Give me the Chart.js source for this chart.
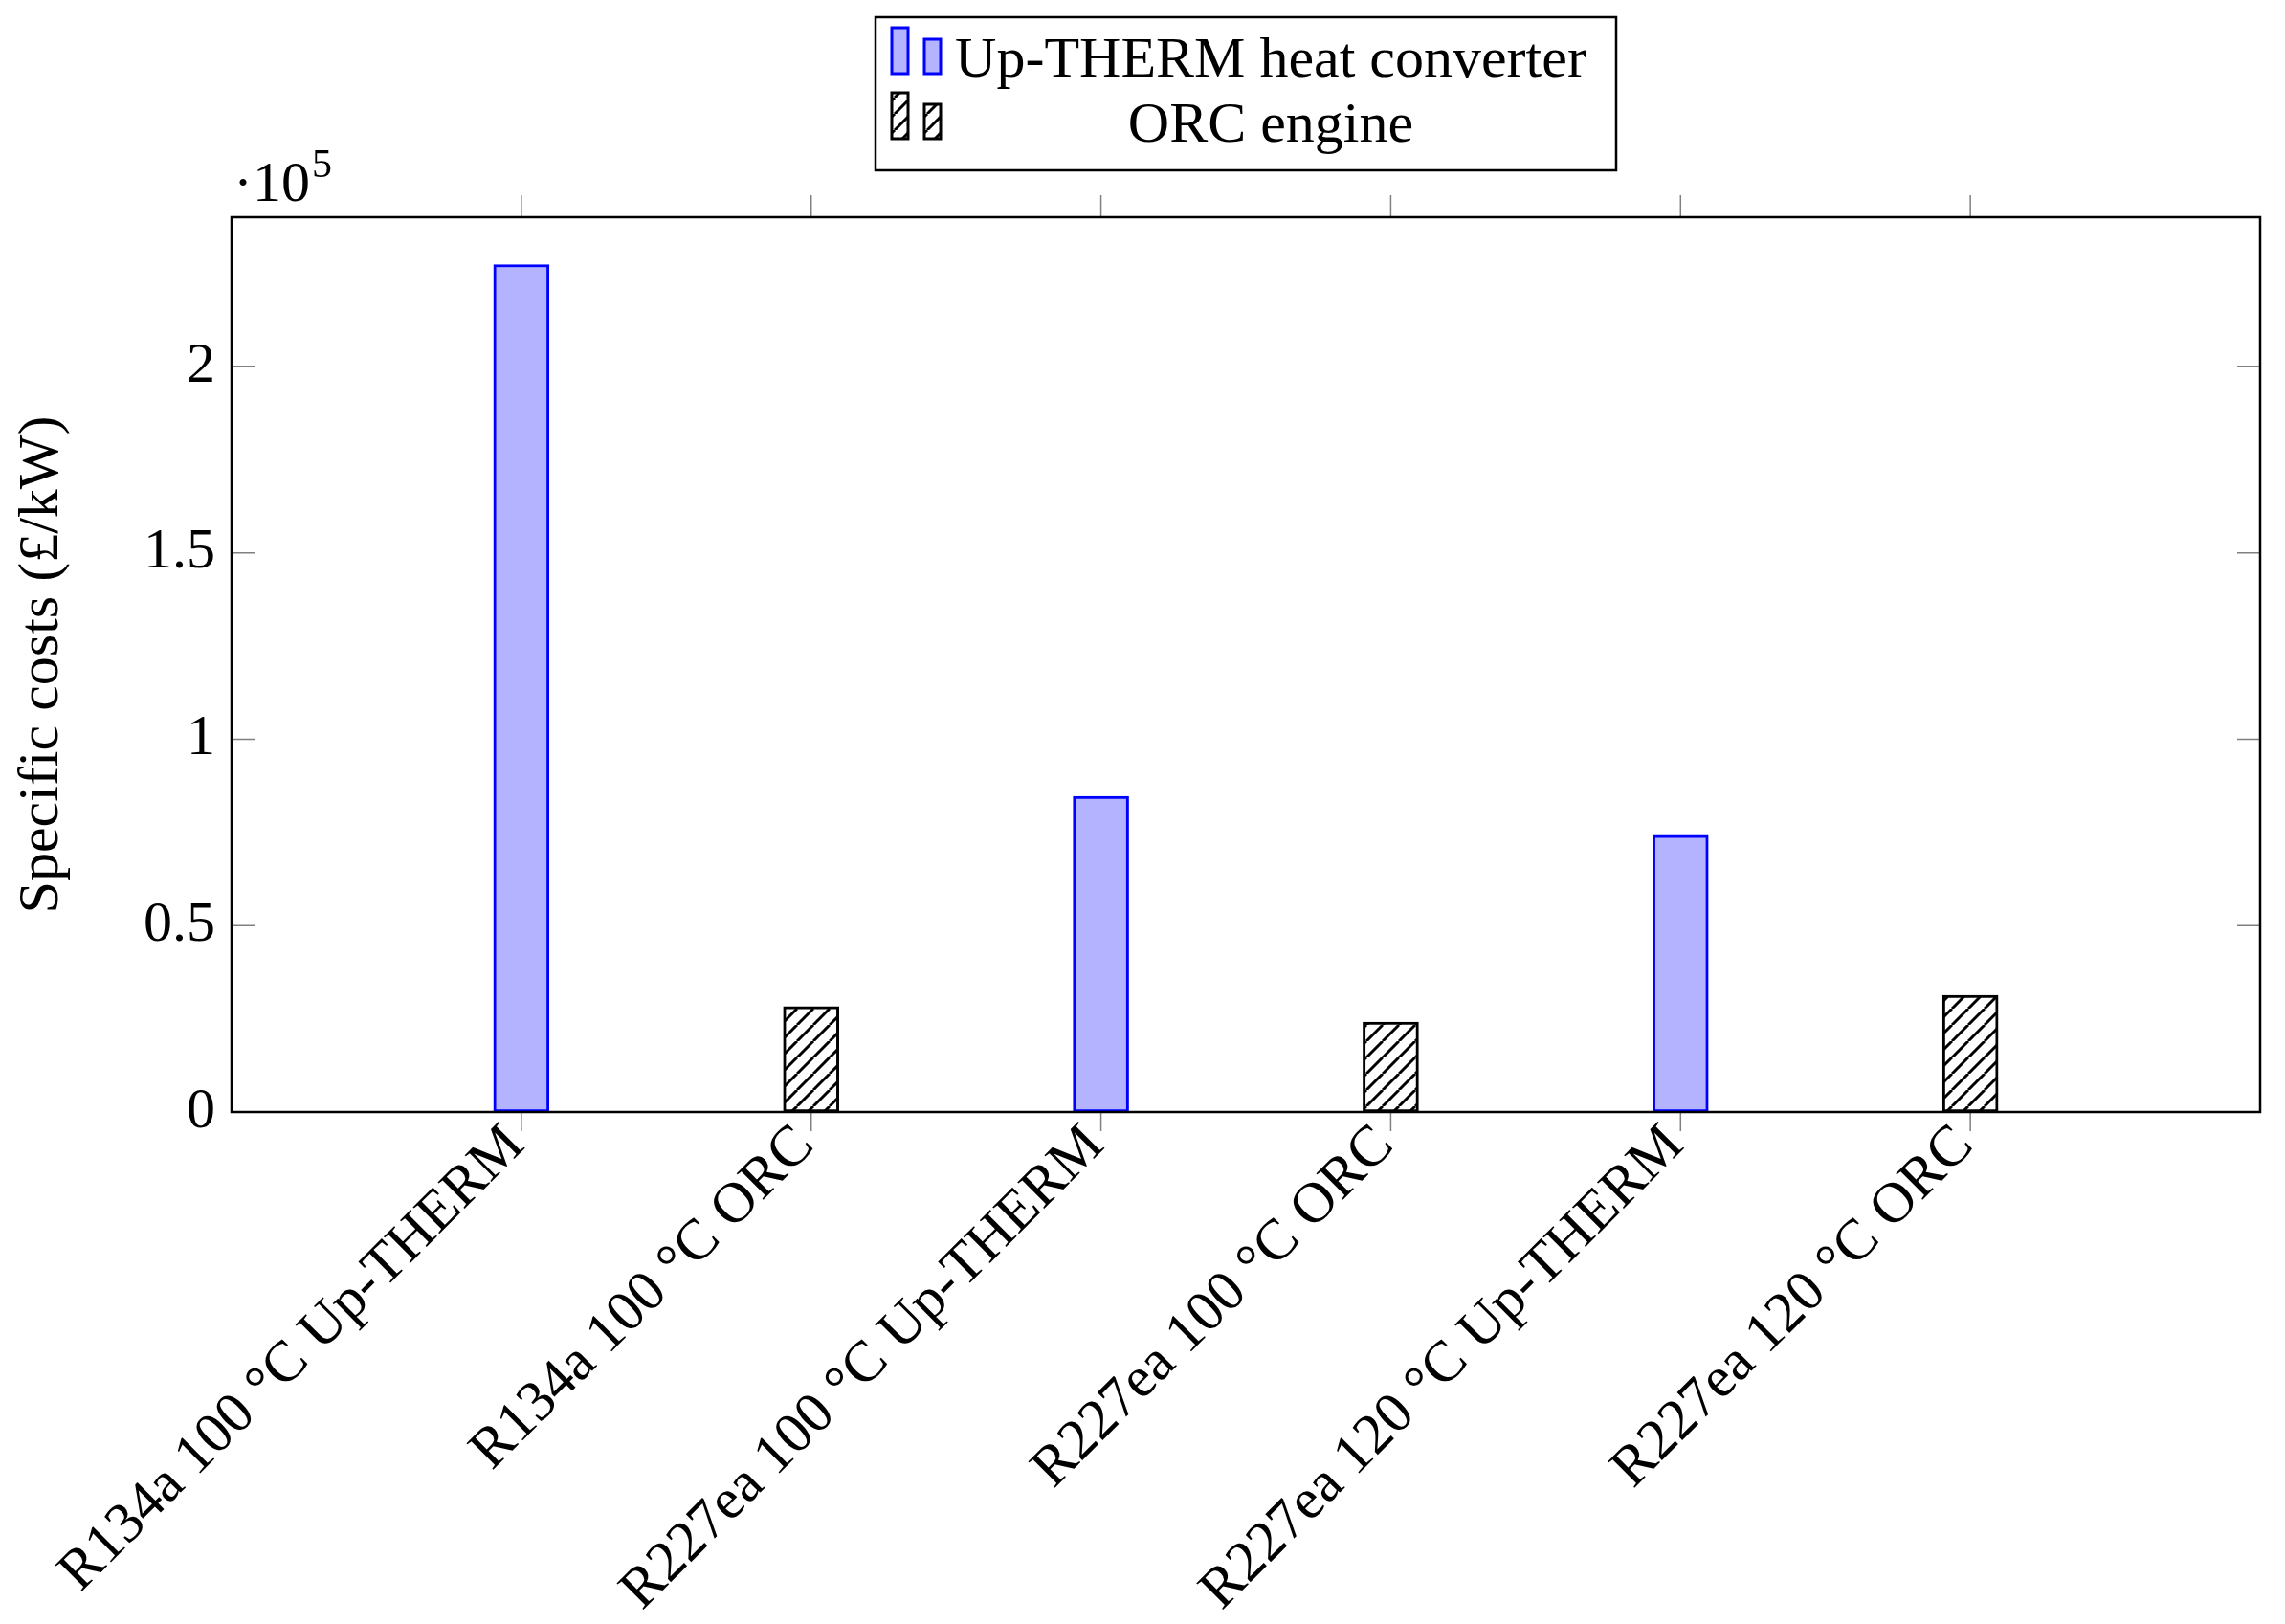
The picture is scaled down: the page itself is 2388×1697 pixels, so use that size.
<!DOCTYPE html>
<html lang="en">
<head>
<meta charset="UTF-8">
<title>Specific costs</title>
<script src="https://cdn.jsdelivr.net/npm/chart.js"></script>
<style>
    body {
        margin: 0;
        background: #fff;
    }

    .chart-container {
        width: 2388px;
        height: 1697px;
    }
</style>
</head>
<body>
<div class="chart-container">
    <canvas id="costChart"></canvas>
</div>

<script>
    // categories in plot order
    const categories = [
        'R134a 100 °C Up-THERM',
        'R134a 100 °C ORC',
        'R227ea 100 °C Up-THERM',
        'R227ea 100 °C ORC',
        'R227ea 120 °C Up-THERM',
        'R227ea 120 °C ORC'
    ];
    // specific costs in £/kW (null = no bar for that series)
    const upThermCosts = [227300, null, 84700, null, 74200, null];
    const orcCosts = [null, 28300, null, 24100, null, 31300];
    // y ticks, in units of 10^5
    const yTicks = [0, 0.5, 1, 1.5, 2];
    const yExp = 5;
    const yMax = 2.4;

    const FONT = "'Liberation Serif', 'Times New Roman', serif";
    const scaleFactor = Math.pow(10, yExp);

    // empty slot on both ends so the bars sit one step in from the frame
    const labels = ['', ...categories, ''];
    const pad = arr => [null, ...arr, null];

    // diagonal hatch for the ORC bars
    function makeHatch() {
        const s = 17;
        const c = document.createElement('canvas');
        c.width = s;
        c.height = s;
        const g = c.getContext('2d');
        g.fillStyle = '#fff';
        g.fillRect(0, 0, s, s);
        g.strokeStyle = '#000';
        g.lineWidth = 3;
        g.beginPath();
        for (let k = -1; k <= 1; k++) {
            g.moveTo(k * s, s);
            g.lineTo(k * s + s, 0);
        }
        g.stroke();
        return g.createPattern(c, 'repeat');
    }

    const hatch = makeHatch();

    // frame, tick marks, exponent label and legend box
    const decorations = {
        id: 'decorations',
        afterDatasetsDraw(chart) {
            const { ctx, chartArea: a, scales: { x, y } } = chart;
            ctx.save();

            ctx.strokeStyle = '#808080';
            ctx.lineWidth = 1.5;
            ctx.beginPath();
            categories.forEach((c, i) => {
                const px = x.getPixelForValue(i + 1);
                ctx.moveTo(px, a.top - 23);
                ctx.lineTo(px, a.top);
                ctx.moveTo(px, a.bottom);
                ctx.lineTo(px, a.bottom + 20);
            });
            yTicks.forEach(v => {
                const py = y.getPixelForValue(v * scaleFactor);
                ctx.moveTo(a.left, py);
                ctx.lineTo(a.left + 24, py);
                ctx.moveTo(a.right - 24, py);
                ctx.lineTo(a.right, py);
            });
            ctx.stroke();

            ctx.strokeStyle = '#000';
            ctx.lineWidth = 2.5;
            ctx.strokeRect(a.left, a.top, a.right - a.left, a.bottom - a.top);

            // ·10^5 above the y axis
            ctx.fillStyle = '#000';
            ctx.textBaseline = 'alphabetic';
            ctx.textAlign = 'left';
            ctx.font = '60px ' + FONT;
            const base = '\u00b710';
            ctx.fillText(base, a.left + 2, a.top - 17);
            const w = ctx.measureText(base).width;
            ctx.font = '42px ' + FONT;
            ctx.fillText(String(yExp), a.left + 4 + w, a.top - 42);

            ctx.restore();
        },
        afterDraw(chart) {
            const ctx = chart.ctx;
            const ds = chart.data.datasets;
            ctx.save();

            ctx.strokeStyle = '#000';
            ctx.lineWidth = 2.5;
            ctx.fillStyle = '#fff';
            ctx.fillRect(915, 18, 774, 160);
            ctx.strokeRect(915, 18, 774, 160);

            const rows = [68, 136];
            ds.forEach((d, i) => {
                const bottom = rows[i] + 9;
                ctx.fillStyle = d.backgroundColor;
                ctx.strokeStyle = d.borderColor;
                ctx.lineWidth = 3;
                [[932, 48], [966, 36]].forEach(([bx, h]) => {
                    ctx.fillRect(bx, bottom - h, 17, h);
                    ctx.strokeRect(bx, bottom - h, 17, h);
                });
                ctx.fillStyle = '#000';
                ctx.font = '60px ' + FONT;
                ctx.textAlign = 'center';
                ctx.textBaseline = 'alphabetic';
                ctx.fillText(d.label, 1328, rows[i] + 12);
            });

            ctx.restore();
        }
    };

    const ctx = document.getElementById('costChart').getContext('2d');
    new Chart(ctx, {
        type: 'bar',
        data: {
            labels: labels,
            datasets: [{
                label: 'Up-THERM heat converter',
                data: pad(upThermCosts),
                backgroundColor: '#b3b3ff',
                borderColor: '#0000ff',
                borderWidth: 3,
                borderSkipped: false,
                barThickness: 58,
                grouped: false
            }, {
                label: 'ORC engine',
                data: pad(orcCosts),
                backgroundColor: hatch,
                borderColor: '#000',
                borderWidth: 3,
                borderSkipped: false,
                barThickness: 58,
                grouped: false
            }]
        },
        options: {
            responsive: true,
            maintainAspectRatio: false,
            animation: false,
            layout: {
                padding: { top: 227, right: 26, bottom: 0, left: 0 }
            },
            plugins: {
                legend: { display: false },
                tooltip: { enabled: false }
            },
            scales: {
                x: {
                    offset: false,
                    grid: { display: false, drawTicks: false },
                    border: { display: false },
                    ticks: {
                        autoSkip: false,
                        minRotation: 45,
                        maxRotation: 45,
                        padding: 0,
                        labelOffset: -6,
                        color: '#000',
                        font: { family: FONT, size: 60 }
                    },
                    afterFit(scale) {
                        scale.height = 535;
                        scale.paddingLeft = 0;
                        scale.paddingRight = 0;
                    }
                },
                y: {
                    min: 0,
                    max: yMax * scaleFactor,
                    grid: { display: false, drawTicks: false },
                    border: { display: false },
                    afterBuildTicks(scale) {
                        scale.ticks = yTicks.map(v => ({ value: v * scaleFactor }));
                    },
                    ticks: {
                        padding: 17,
                        color: '#000',
                        font: { family: FONT, size: 60 },
                        callback: value => String(value / scaleFactor)
                    },
                    title: {
                        display: true,
                        text: 'Specific costs (£/kW)',
                        color: '#000',
                        font: { family: FONT, size: 60 },
                        padding: { top: 8, bottom: 0 }
                    },
                    afterFit(scale) {
                        scale.width = 242;
                    }
                }
            }
        },
        plugins: [decorations]
    });
</script>
</body>
</html>
